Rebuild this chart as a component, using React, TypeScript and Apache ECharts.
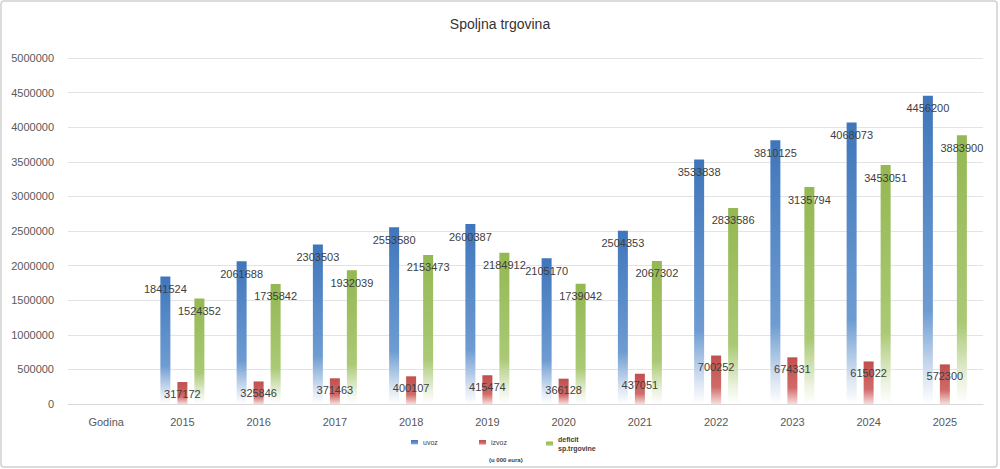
import React, { useEffect, useRef } from "react";
import * as echarts from "echarts";

const categories = ["Godina", "2015", "2016", "2017", "2018", "2019", "2020", "2021", "2022", "2023", "2024", "2025"];
const uvoz = [null, 1841524, 2061688, 2303503, 2553580, 2600387, 2105170, 2504353, 3533838, 3810125, 4068073, 4456200];
const izvoz = [null, 317172, 325846, 371463, 400107, 415474, 366128, 437051, 700252, 674331, 615022, 572300];
const deficit = [null, 1524352, 1735842, 1932039, 2153473, 2184912, 1739042, 2067302, 2833586, 3135794, 3453051, 3883900];
const yTicks = { min: 0, max: 5000000, interval: 500000 };
const titleText = "Spoljna trgovina";
const unitText = "(u 000 eura)";

const FONT = "Liberation Sans, Arial, sans-serif";

function grad(stops: [number, string][]) {
  return new echarts.graphic.LinearGradient(
    0, 0, 0, 1,
    stops.map(([offset, color]) => ({ offset, color }))
  );
}

export default function App() {
  const ref = useRef<HTMLDivElement>(null);
  useEffect(() => {
    if (!ref.current) return;
    const chart = echarts.init(ref.current, undefined, { renderer: "svg" });
    const label = {
      show: true,
      position: "insideTop",
      distance: 7,
      color: "#404040",
      textBorderWidth: 0,
      textBorderColor: "transparent",
      fontSize: 11,
      fontFamily: FONT,
    };
    chart.setOption({
      animation: false,
      backgroundColor: "#ffffff",
      title: {
        text: titleText,
        left: "center",
        top: 12,
        textStyle: { fontSize: 14, fontWeight: "normal", color: "#333333", fontFamily: FONT },
      },
      legend: [
        {
          data: ["uvoz"],
          left: 406,
          top: 434,
          itemWidth: 7,
          itemHeight: 5,
          icon: "rect",
          textStyle: { fontSize: 7, color: "#404040", fontFamily: FONT },
        },
        {
          data: ["izvoz"],
          left: 474,
          top: 434,
          itemWidth: 7,
          itemHeight: 5,
          icon: "rect",
          textStyle: { fontSize: 7, color: "#404040", fontFamily: FONT },
        },
        {
          data: ["deficit\nsp.trgovine"],
          left: 541,
          top: 430,
          itemWidth: 7,
          itemHeight: 5,
          icon: "rect",
          textStyle: { fontSize: 7, fontWeight: "bold", color: "#404040", fontFamily: FONT, lineHeight: 9 },
        },
      ],
      graphic: [
        {
          type: "rect",
          shape: { x: 1, y: 1, width: 996, height: 466, r: 3 },
          style: { fill: "none", stroke: "#d0d0d0", lineWidth: 1.5 },
          silent: true,
        },
        {
          type: "text",
          left: 489,
          top: 457,
          style: { text: unitText, fontSize: 6, fontWeight: "bold", fill: "#404040", fontFamily: FONT },
        },
      ],
      grid: { left: 68, right: 17, top: 58, bottom: 65, containLabel: false },
      xAxis: {
        type: "category",
        data: categories,
        axisLine: { lineStyle: { color: "#d9d9d9" } },
        axisTick: { show: false },
        axisLabel: { color: "#595959", fontSize: 11, margin: 12, fontFamily: FONT },
      },
      yAxis: {
        type: "value",
        min: yTicks.min,
        max: yTicks.max,
        interval: yTicks.interval,
        axisLine: { show: false },
        axisTick: { show: false },
        splitLine: { lineStyle: { color: "#e3e3e3" } },
        axisLabel: {
          color: "#595959",
          fontSize: 11,
          margin: 14,
          fontFamily: FONT,
          formatter: (v: number) => String(v),
        },
      },
      series: [
        {
          name: "uvoz",
          type: "bar",
          data: uvoz,
          barWidth: 10,
          barGap: "70%",
          itemStyle: {
            color: grad([
              [0, "#3f76bb"],
              [0.7, "#6e9cd2"],
              [0.92, "#dfe8f4"],
              [1, "#ffffff"],
            ]),
          },
          label,
        },
        {
          name: "izvoz",
          type: "bar",
          data: izvoz,
          barWidth: 10,
          barGap: "70%",
          itemStyle: {
            color: grad([
              [0, "#c0504d"],
              [0.65, "#d06a68"],
              [1, "#f6dcdb"],
            ]),
          },
          label: { ...label, distance: 6 },
        },
        {
          name: "deficit\nsp.trgovine",
          type: "bar",
          data: deficit,
          barWidth: 10,
          barGap: "70%",
          itemStyle: {
            color: grad([
              [0, "#94b852"],
              [0.7, "#aac975"],
              [0.92, "#eef4e2"],
              [1, "#ffffff"],
            ]),
          },
          label,
        },
      ],
    });
    return () => chart.dispose();
  }, []);
  return (
    <div
      ref={ref}
      style={{ position: "fixed", left: 0, top: 0, width: 1000, height: 469 }}
    />
  );
}
